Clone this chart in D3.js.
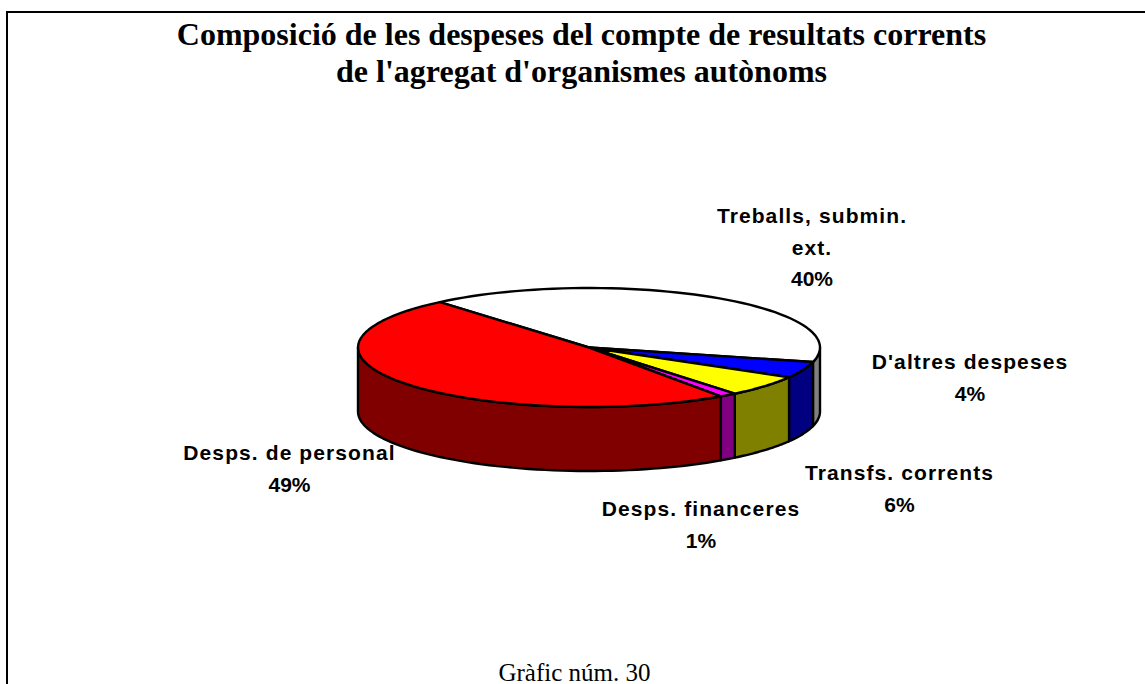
<!DOCTYPE html>
<html><head><meta charset="utf-8">
<style>html,body{margin:0;padding:0;background:#fff;overflow:hidden}svg{display:block}</style>
<script src="https://cdn.jsdelivr.net/npm/d3@7"></script></head>
<body><svg id="c" width="1145" height="684"></svg>
<script>
const categories = ["Treballs, submin. ext.", "D'altres despeses", "Transfs. corrents", "Desps. financeres", "Desps. de personal"];
const values = [40.1, 4.4, 5.8, 1.2, 48.5];
const topColors = ["#ffffff", "#0000ff", "#ffff00", "#ff00ff", "#ff0000"];
const sideColors = ["#808080", "#000080", "#808000", "#800080", "#800000"];
const titleLines = ["Composició de les despeses del compte de resultats corrents", "de l'agregat d'organismes autònoms"];
const footer = "Gràfic núm. 30";
const labelLines = [["Treballs, submin.", "ext."], ["D'altres despeses"], ["Transfs. corrents"], ["Desps. financeres"], ["Desps. de personal"]];
const labelPos = [[812, 223], [970, 369], [899.5, 480], [701, 516], [289.5, 460]];

const svg = d3.select("#c");
const sx = d3.scaleLinear().domain([-1, 1]).range([358, 820]);
const sy = d3.scaleLinear().domain([-1, 1]).range([288, 407]);
const depth = 64;
const startAngle = -40.2 * Math.PI / 180;
const arcs = d3.pie().sort(null).startAngle(startAngle).endAngle(startAngle + 2 * Math.PI)(values);
const rim = a => [sx(Math.sin(a)), sy(-Math.cos(a))];
const samples = (a0, a1) => d3.range(0, 61).map(i => rim(a0 + (a1 - a0) * i / 60));
const line = d3.line();

// frame: top and left edges only, the rest is cut off
svg.append("path").attr("d", "M7,684V12H1145").attr("fill", "none").attr("stroke", "#000").attr("stroke-width", 2);

// side wall, only the front half of the rim (90° to 270° clockwise from the top)
const frontA = Math.PI / 2, frontB = 3 * Math.PI / 2;
arcs.forEach(d => {
  const a0 = Math.max(d.startAngle, frontA), a1 = Math.min(d.endAngle, frontB);
  if (a1 <= a0) return;
  const upper = samples(a0, a1);
  const lower = upper.slice().reverse().map(p => [p[0], p[1] + depth]);
  svg.append("path").attr("d", line(upper.concat(lower)) + "Z")
    .attr("fill", sideColors[d.index]).attr("stroke", "#000").attr("stroke-width", 2.4).attr("stroke-linejoin", "round");
});

// top face
arcs.forEach(d => {
  const centre = [sx(0), sy(0)];
  svg.append("path").attr("d", line([centre].concat(samples(d.startAngle, d.endAngle))) + "Z")
    .attr("fill", topColors[d.index]).attr("stroke", "#000").attr("stroke-width", 2.4).attr("stroke-linejoin", "round");
});

// title and footer
svg.append("g").selectAll("text").data(titleLines).join("text")
  .attr("x", 581.5).attr("y", (d, i) => 45 + i * 37).attr("text-anchor", "middle")
  .attr("font-family", "'Liberation Serif'").attr("font-weight", "bold").attr("font-size", 32).text(d => d);
svg.append("text").attr("x", 574.5).attr("y", 681).attr("text-anchor", "middle")
  .attr("font-family", "'Liberation Serif'").attr("font-size", 25).text(footer);

// labels
categories.forEach((c, i) => {
  const g = svg.append("text").attr("text-anchor", "middle")
    .attr("font-family", "'Liberation Sans'").attr("font-weight", "bold").attr("font-size", 21);
  labelLines[i].forEach((t, j) => g.append("tspan").attr("x", labelPos[i][0]).attr("y", labelPos[i][1] + j * 31.5)
    .attr("letter-spacing", 1.1).text(t));
  g.append("tspan").attr("x", labelPos[i][0]).attr("y", labelPos[i][1] + labelLines[i].length * 31.5)
    .text(Math.round(values[i]) + "%");
});
</script></body></html>
